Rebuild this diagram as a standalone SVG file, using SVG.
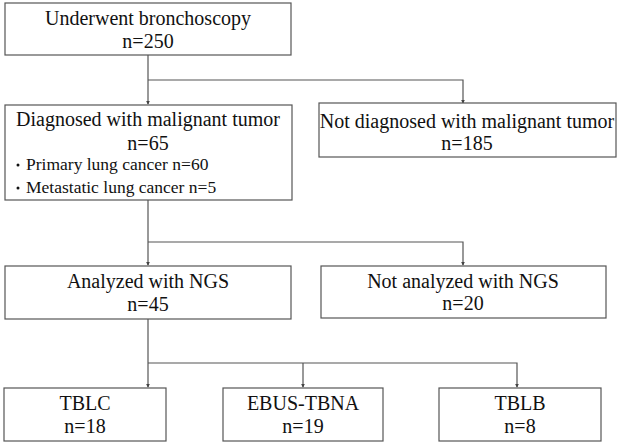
<svg xmlns="http://www.w3.org/2000/svg" width="626" height="447" viewBox="0 0 626 447">
<style>
.box{fill:#fff;stroke:#555;stroke-width:1.2}
.t{font-family:'Liberation Serif','Times New Roman',Times,serif;font-size:20px;fill:#111;text-anchor:middle}
.s{font-family:'Liberation Serif','Times New Roman',Times,serif;font-size:17.5px;fill:#111}
.c{fill:none;stroke:#555;stroke-width:1.2}
</style>
<defs>
<marker id="ah" viewBox="0 0 6 6" refX="5" refY="3" markerWidth="4" markerHeight="4" orient="auto" markerUnits="userSpaceOnUse">
<path d="M0,0 L6,3 L0,6 z" fill="#444"/>
</marker>
</defs>
<rect width="626" height="447" fill="#fff"/>
<g id="connectors">
<path class="c" d="M148,55 V104" marker-end="url(#ah)"/>
<path class="c" d="M148,80 H463 V103" marker-end="url(#ah)"/>
<path class="c" d="M148,200 V265" marker-end="url(#ah)"/>
<path class="c" d="M148,242 H463 V265" marker-end="url(#ah)"/>
<path class="c" d="M148,319 V387" marker-end="url(#ah)"/>
<path class="c" d="M148,363 H517 V387" marker-end="url(#ah)"/>
<path class="c" d="M303,363 V387" marker-end="url(#ah)"/>
</g>
<g id="n1">
<rect class="box" x="5" y="3" width="286" height="52"/>
<text class="t" x="148" y="25">Underwent bronchoscopy</text>
<text class="t" x="148" y="48">n=250</text>
</g>
<g id="n2">
<rect class="box" x="5" y="105" width="287" height="95"/>
<text class="t" x="148" y="126">Diagnosed with malignant tumor</text>
<text class="t" x="148" y="150">n=65</text>
<circle cx="18" cy="165" r="1.5" fill="#111"/>
<circle cx="18" cy="188" r="1.5" fill="#111"/>
<text class="s" x="26" y="170">Primary lung cancer n=60</text>
<text class="s" x="26" y="193">Metastatic lung cancer n=5</text>
</g>
<g id="n3">
<rect class="box" x="319" y="103" width="297" height="54"/>
<text class="t" x="467" y="128">Not diagnosed with malignant tumor</text>
<text class="t" x="467" y="150">n=185</text>
</g>
<g id="n4">
<rect class="box" x="5" y="266" width="286" height="53"/>
<text class="t" x="148" y="288">Analyzed with NGS</text>
<text class="t" x="148" y="311">n=45</text>
</g>
<g id="n5">
<rect class="box" x="321" y="266" width="285" height="52"/>
<text class="t" x="463" y="288">Not analyzed with NGS</text>
<text class="t" x="463" y="310">n=20</text>
</g>
<g id="n6">
<rect class="box" x="4" y="388" width="162" height="53"/>
<text class="t" x="85" y="410">TBLC</text>
<text class="t" x="85" y="433">n=18</text>
</g>
<g id="n7">
<rect class="box" x="223" y="388" width="160" height="53"/>
<text class="t" x="303" y="410">EBUS-TBNA</text>
<text class="t" x="303" y="433">n=19</text>
</g>
<g id="n8">
<rect class="box" x="439" y="388" width="162" height="53"/>
<text class="t" x="520" y="410">TBLB</text>
<text class="t" x="520" y="433">n=8</text>
</g>
</svg>
